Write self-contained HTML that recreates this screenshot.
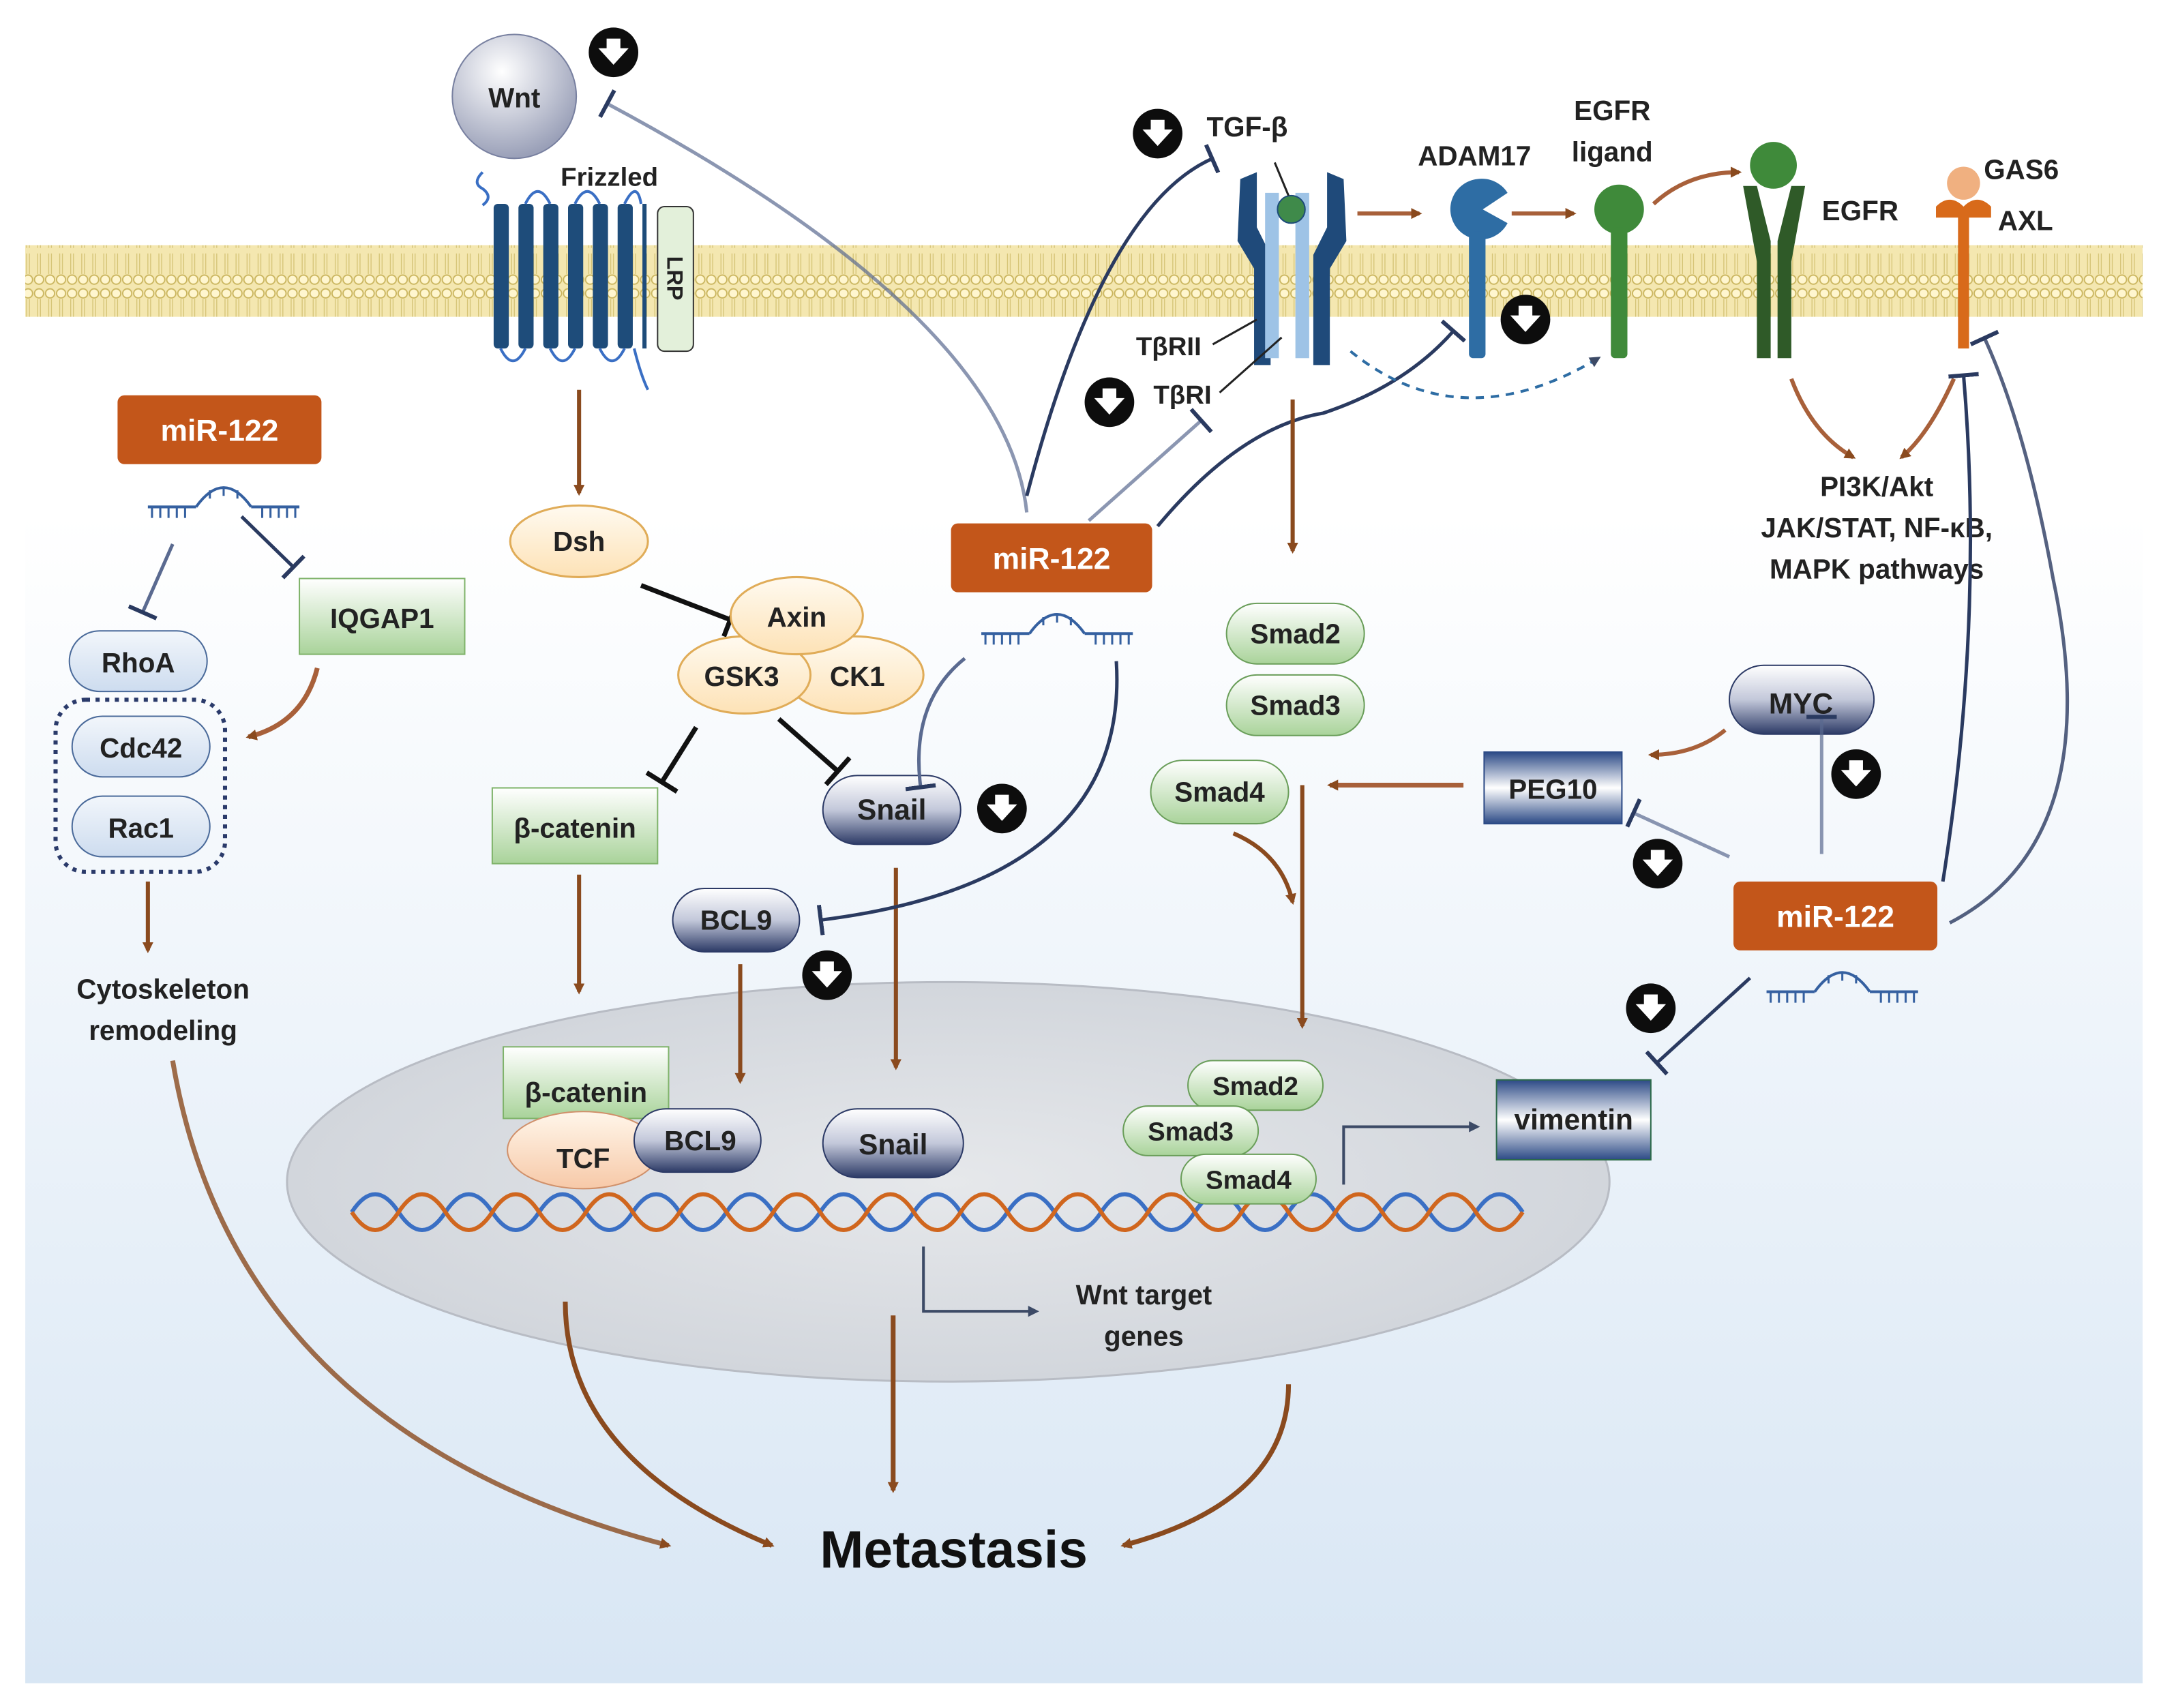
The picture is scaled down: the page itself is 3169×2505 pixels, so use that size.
<!DOCTYPE html>
<html><head><meta charset="utf-8"><style>
html,body{margin:0;padding:0;background:#fff}
svg{display:block}
text{font-family:"Liberation Sans",sans-serif;font-weight:bold}
</style></head><body>
<svg width="3169" height="2505" viewBox="0 0 1568 1240" xmlns="http://www.w3.org/2000/svg">
<defs>
<linearGradient id="bg" x1="0" y1="0" x2="0" y2="1"><stop offset="0" stop-color="#fff"/><stop offset="0.3" stop-color="#fff"/><stop offset="1" stop-color="#d8e6f4"/></linearGradient>
<radialGradient id="nuc" cx="0.5" cy="0.5" r="0.5"><stop offset="0" stop-color="#e6e8eb"/><stop offset="1" stop-color="#d2d6dc"/></radialGradient>
<radialGradient id="wnt" cx="0.4" cy="0.3" r="0.7"><stop offset="0" stop-color="#fff"/><stop offset="1" stop-color="#9aa0b8"/></radialGradient>
<linearGradient id="dk" x1="0" y1="0" x2="0" y2="1"><stop offset="0" stop-color="#fff"/><stop offset="0.5" stop-color="#c3c8da"/><stop offset="1" stop-color="#2c3a66"/></linearGradient>
<linearGradient id="gr" x1="0" y1="0" x2="0" y2="1"><stop offset="0" stop-color="#fff"/><stop offset="1" stop-color="#a9d39a"/></linearGradient>
<linearGradient id="pe" x1="0" y1="0" x2="0" y2="1"><stop offset="0" stop-color="#fff6ea"/><stop offset="1" stop-color="#f7c9a8"/></linearGradient>
<linearGradient id="yl" x1="0" y1="0" x2="0" y2="1"><stop offset="0" stop-color="#fffaf0"/><stop offset="1" stop-color="#fde2b6"/></linearGradient>
<linearGradient id="bx" x1="0" y1="0" x2="0" y2="1"><stop offset="0" stop-color="#2c4a86"/><stop offset="0.5" stop-color="#fff"/><stop offset="1" stop-color="#2c4a86"/></linearGradient>
<linearGradient id="lb" x1="0" y1="0" x2="0" y2="1"><stop offset="0" stop-color="#f2f6fb"/><stop offset="1" stop-color="#cddcef"/></linearGradient>
<pattern id="lip" width="8" height="52" patternUnits="userSpaceOnUse">
<rect width="8" height="52" fill="#f4e7b0"/>
<circle cx="4" cy="5" r="3.3" fill="#fff6cf" stroke="#c9b45c" stroke-width="0.9"/>
<circle cx="4" cy="47" r="3.3" fill="#fff6cf" stroke="#c9b45c" stroke-width="0.9"/>
<line x1="3" y1="9" x2="3" y2="24" stroke="#d2c070" stroke-width="0.6"/><line x1="5" y1="9" x2="5" y2="24" stroke="#d2c070" stroke-width="0.6"/>
<line x1="3" y1="28" x2="3" y2="43" stroke="#d2c070" stroke-width="0.6"/><line x1="5" y1="28" x2="5" y2="43" stroke="#d2c070" stroke-width="0.6"/>
</pattern>
<marker id="ab" markerWidth="8" markerHeight="8" refX="6" refY="4" orient="auto" markerUnits="userSpaceOnUse" viewBox="0 0 8 8"><path d="M0,0 L8,4 L0,8 z" fill="#8a4a1e"/></marker>
<marker id="ak" markerWidth="8" markerHeight="8" refX="6" refY="4" orient="auto" viewBox="0 0 8 8" markerUnits="userSpaceOnUse"><path d="M0,0 L8,4 L0,8 z" fill="#3c4a66"/></marker>
<marker id="tb" markerWidth="4" markerHeight="22" refX="2" refY="11" orient="auto" markerUnits="userSpaceOnUse" viewBox="0 0 4 22"><rect x="0" y="0" width="3" height="22" fill="#2a3a60"/></marker>
<marker id="tk" markerWidth="4" markerHeight="26" refX="2" refY="13" orient="auto" markerUnits="userSpaceOnUse" viewBox="0 0 4 26"><rect x="0" y="0" width="3.5" height="26" fill="#111"/></marker>
<g id="dn"><circle r="18" fill="#0d0d0d"/><path d="M-5,-10 h10 v7 h6 l-11,12 l-11,-12 h6z" fill="#fff"/></g>
<g id="mir"><path d="M-55,0 H-20 M20,0 H55" stroke="#3560a0" stroke-width="2" fill="none"/><path d="M-20,0 Q0,-28 20,0" stroke="#3560a0" stroke-width="2" fill="none"/>
<path d="M-52,0 v8 M-46,0 v8 M-40,0 v8 M-34,0 v8 M-28,0 v8 M28,0 v8 M34,0 v8 M40,0 v8 M46,0 v8 M52,0 v8 M-10,-12 v6 M0,-14 v6 M10,-12 v6" stroke="#3560a0" stroke-width="1.5"/></g>
</defs>
<rect width="1568" height="1240" fill="#fff"/>
<rect x="18" y="10" width="1537" height="1212" fill="url(#bg)"/>
<rect x="18" y="178" width="1537" height="52" fill="url(#lip)"/>
<ellipse cx="688" cy="858" rx="480" ry="145" fill="url(#nuc)" stroke="#b8bcc4" stroke-width="1.5"/>
<!-- DNA -->
<g fill="none" stroke-width="3">
<path id="h1" d="M255,880 q17,-26 34,0 t34,0 t34,0 t34,0 t34,0 t34,0 t34,0 t34,0 t34,0 t34,0 t34,0 t34,0 t34,0 t34,0 t34,0 t34,0 t34,0 t34,0 t34,0 t34,0 t34,0 t34,0 t34,0 t34,0 t34,0" stroke="#3a6fc4"/>
<path d="M255,880 q17,26 34,0 t34,0 t34,0 t34,0 t34,0 t34,0 t34,0 t34,0 t34,0 t34,0 t34,0 t34,0 t34,0 t34,0 t34,0 t34,0 t34,0 t34,0 t34,0 t34,0 t34,0 t34,0 t34,0 t34,0 t34,0" stroke="#d0661e"/>
</g>
<!-- metastasis curves -->
<g fill="none" stroke="#8a4a1e" stroke-width="3.5">
<path d="M125,770 Q170,1040 485,1122" marker-end="url(#ab)" stroke-opacity="0.8"/>
<path d="M410,945 Q410,1060 560,1122" marker-end="url(#ab)"/>
<path d="M648,955 V1082" marker-end="url(#ab)"/>
<path d="M935,1005 Q935,1090 815,1122" marker-end="url(#ab)"/>
</g>
<text x="692" y="1138" font-size="38" text-anchor="middle" fill="#111">Metastasis</text>
<!-- Wnt -->
<circle cx="373" cy="70" r="45" fill="url(#wnt)" stroke="#7880a0"/>
<text x="373" y="78" font-size="20" text-anchor="middle" fill="#222">Wnt</text>
<use href="#dn" x="445" y="38"/>
<text x="442" y="135" font-size="19" text-anchor="middle" fill="#222">Frizzled</text>
<path d="M350,125 q-8,8 0,12 q8,6 0,12" stroke="#3a6fc4" fill="none" stroke-width="2"/>
<g fill="#1e4c7a"><rect x="358" y="148" width="11" height="105" rx="3"/><rect x="376" y="148" width="11" height="105" rx="3"/><rect x="394" y="148" width="11" height="105" rx="3"/><rect x="412" y="148" width="11" height="105" rx="3"/><rect x="430" y="148" width="11" height="105" rx="3"/><rect x="448" y="148" width="11" height="105" rx="3"/><rect x="466" y="148" width="3" height="105"/></g>
<path d="M363,253 q9,18 18,0 M399,253 q9,18 18,0 M435,253 q9,18 18,0 M381,148 q9,-18 18,0 M417,148 q9,-18 18,0 M453,148 q9,-18 12,0 M460,253 q5,20 10,30" stroke="#3a6fc4" fill="none" stroke-width="2"/>
<rect x="477" y="150" width="26" height="105" rx="5" fill="#e3f0da" stroke="#333"/>
<text x="490" y="202" font-size="16" text-anchor="middle" fill="#222" transform="rotate(90 490 202)" dy="6">LRP</text>
<path d="M420,283 V358" stroke="#8a4a1e" stroke-width="3" marker-end="url(#ab)"/>
<ellipse cx="420" cy="393" rx="50" ry="26" fill="url(#yl)" stroke="#e0ac58" stroke-width="1.5"/>
<text x="420" y="400" font-size="20" text-anchor="middle" fill="#222">Dsh</text>
<path d="M465,425 L530,450" stroke="#111" stroke-width="3.5" marker-end="url(#tk)"/>
<ellipse cx="620" cy="490" rx="50" ry="28" fill="url(#yl)" stroke="#e0ac58" stroke-width="1.5"/>
<ellipse cx="540" cy="490" rx="48" ry="28" fill="url(#yl)" stroke="#e0ac58" stroke-width="1.5"/>
<ellipse cx="578" cy="447" rx="48" ry="28" fill="url(#yl)" stroke="#e0ac58" stroke-width="1.5"/>
<text x="578" y="455" font-size="20" text-anchor="middle" fill="#222">Axin</text>
<text x="538" y="498" font-size="20" text-anchor="middle" fill="#222">GSK3</text>
<text x="622" y="498" font-size="20" text-anchor="middle" fill="#222">CK1</text>
<path d="M505,528 L480,568" stroke="#111" stroke-width="3.5" marker-end="url(#tk)"/>
<path d="M565,522 L608,560" stroke="#111" stroke-width="3.5" marker-end="url(#tk)"/>
<rect x="357" y="572" width="120" height="55" fill="url(#gr)" stroke="#7fb36a"/>
<text x="417" y="608" font-size="20" text-anchor="middle" fill="#222">β-catenin</text>
<path d="M420,635 V720" stroke="#8a4a1e" stroke-width="3" marker-end="url(#ab)"/>
<rect x="597" y="563" width="100" height="50" rx="25" fill="url(#dk)" stroke="#2c3a66"/>
<text x="647" y="595" font-size="21" text-anchor="middle" fill="#222">Snail</text>
<use href="#dn" x="727" y="587"/>
<path d="M650,630 V775" stroke="#8a4a1e" stroke-width="3" marker-end="url(#ab)"/>
<rect x="488" y="645" width="92" height="46" rx="23" fill="url(#dk)" stroke="#2c3a66"/>
<text x="534" y="675" font-size="20" text-anchor="middle" fill="#222">BCL9</text>
<use href="#dn" x="600" y="708"/>
<path d="M537,700 V785" stroke="#8a4a1e" stroke-width="3" marker-end="url(#ab)"/>
<!-- miR-122 center -->
<rect x="690" y="380" width="146" height="50" rx="5" fill="#c3561a"/>
<text x="763" y="413" font-size="22" text-anchor="middle" fill="#fff">miR-122</text>
<use href="#mir" x="767" y="460"/>
<path d="M745,372 Q730,230 440,75" stroke="#5a6a90" stroke-width="2.5" fill="none" marker-end="url(#tb)" stroke-opacity="0.7"/>
<path d="M790,378 L872,305" stroke="#5a6a90" stroke-width="2.5" fill="none" marker-end="url(#tb)" stroke-opacity="0.7"/>
<path d="M840,382 Q900,310 960,300 Q1020,280 1055,240" stroke="#2a3a60" stroke-width="2.5" fill="none" marker-end="url(#tb)"/>
<path d="M700,478 Q660,510 668,572" stroke="#5a6a90" stroke-width="2.5" fill="none" marker-end="url(#tb)"/>
<path d="M810,480 Q820,640 595,668" stroke="#2a3a60" stroke-width="2.5" fill="none" marker-end="url(#tb)"/>
<!-- TGF -->
<use href="#dn" x="840" y="97"/>
<text x="905" y="99" font-size="20" text-anchor="middle" fill="#222">TGF-β</text>
<path d="M745,360 Q800,150 880,115" stroke="#2a3a60" stroke-width="2.5" fill="none" marker-end="url(#tb)"/>
<g>
<path d="M900,130 l12,-5 l0,40 l10,20 l0,80 l-12,0 l0,-70 l-12,-20z" fill="#1f4a7a"/>
<path d="M918,140 l10,0 l0,120 l-10,0z" fill="#9ec3e6"/>
<path d="M940,140 l10,0 l0,120 l-10,0z" fill="#9ec3e6"/>
<path d="M975,130 l-12,-5 l0,40 l-10,20 l0,80 l12,0 l0,-70 l12,-20z" fill="#1f4a7a"/>
<circle cx="937" cy="152" r="10" fill="#3f8a4a" stroke="#1e4c7a"/>
<line x1="925" y1="118" x2="935" y2="142" stroke="#222" stroke-width="1.5"/>
</g>
<text x="848" y="258" font-size="19" text-anchor="middle" fill="#222">TβRII</text>
<text x="858" y="293" font-size="19" text-anchor="middle" fill="#222">TβRI</text>
<line x1="880" y1="250" x2="912" y2="232" stroke="#222" stroke-width="1.5"/>
<line x1="885" y1="285" x2="930" y2="245" stroke="#222" stroke-width="1.5"/>
<use href="#dn" x="805" y="292"/>
<path d="M938,290 V400" stroke="#8a4a1e" stroke-width="3" marker-end="url(#ab)"/>
<path d="M985,155 H1030" stroke="#a8603a" stroke-width="3" marker-end="url(#ab)"/>
<text x="1070" y="120" font-size="20" text-anchor="middle" fill="#222">ADAM17</text>
<path d="M1072,130 a22,22 0 1 0 22,32 l-18,-10 l18,-12 a22,22 0 0 0 -22,-10z" fill="#2e6da4"/>
<rect x="1066" y="168" width="12" height="92" rx="3" fill="#2e6da4"/>
<use href="#dn" x="1107" y="232"/>
<path d="M980,255 Q1060,320 1160,260" stroke="#2e6da4" stroke-width="2" stroke-dasharray="6,5" fill="none" marker-end="url(#ak)"/>
<path d="M1097,155 H1142" stroke="#a8603a" stroke-width="3" marker-end="url(#ab)"/>
<text x="1170" y="87" font-size="20" text-anchor="middle" fill="#222">EGFR</text>
<text x="1170" y="117" font-size="20" text-anchor="middle" fill="#222">ligand</text>
<circle cx="1175" cy="152" r="18" fill="#3f8a3a"/>
<rect x="1169" y="165" width="12" height="95" rx="3" fill="#3f8a3a"/>
<path d="M1200,148 Q1225,125 1262,125" stroke="#a8603a" stroke-width="3" fill="none" marker-end="url(#ab)"/>
<circle cx="1287" cy="120" r="17" fill="#3f8a3a"/>
<path d="M1265,135 l10,0 l10,40 l0,85 l-10,0 l0,-70z M1310,135 l-10,0 l-10,40 l0,85 l10,0 l0,-70z" fill="#2f5a28"/>
<text x="1350" y="160" font-size="20" text-anchor="middle" fill="#222">EGFR</text>
<circle cx="1425" cy="133" r="12" fill="#f0b080"/>
<path d="M1405,150 q10,-10 20,0 q10,-10 20,0 l0,8 l-16,0 l0,95 l-8,0 l0,-95 l-16,0z" fill="#d86a1a"/>
<text x="1467" y="130" font-size="20" text-anchor="middle" fill="#222">GAS6</text>
<text x="1470" y="167" font-size="20" text-anchor="middle" fill="#222">AXL</text>
<path d="M1300,275 Q1315,315 1345,332" stroke="#a8603a" stroke-width="3" fill="none" marker-end="url(#ab)"/>
<path d="M1418,275 Q1400,315 1380,332" stroke="#a8603a" stroke-width="3" fill="none" marker-end="url(#ab)"/>
<text x="1362" y="360" font-size="20" text-anchor="middle" fill="#222">PI3K/Akt</text>
<text x="1362" y="390" font-size="20" text-anchor="middle" fill="#222">JAK/STAT, NF-κB,</text>
<text x="1362" y="420" font-size="20" text-anchor="middle" fill="#222">MAPK pathways</text>
<!-- Smads -->
<rect x="890" y="438" width="100" height="44" rx="22" fill="url(#gr)" stroke="#6a9e5a"/>
<text x="940" y="467" font-size="20" text-anchor="middle" fill="#222">Smad2</text>
<rect x="890" y="490" width="100" height="44" rx="22" fill="url(#gr)" stroke="#6a9e5a"/>
<text x="940" y="519" font-size="20" text-anchor="middle" fill="#222">Smad3</text>
<rect x="835" y="552" width="100" height="46" rx="23" fill="url(#gr)" stroke="#6a9e5a"/>
<text x="885" y="582" font-size="20" text-anchor="middle" fill="#222">Smad4</text>
<path d="M895,605 Q930,620 938,655" stroke="#8a4a1e" stroke-width="3" fill="none" marker-end="url(#ab)"/>
<path d="M945,570 V745" stroke="#8a4a1e" stroke-width="3" marker-end="url(#ab)"/>
<path d="M1062,570 H965" stroke="#a8603a" stroke-width="3.5" marker-end="url(#ab)"/>
<rect x="1077" y="546" width="100" height="52" fill="url(#bx)" stroke="#2c4a86"/>
<text x="1127" y="580" font-size="20" text-anchor="middle" fill="#222">PEG10</text>
<rect x="1255" y="483" width="105" height="50" rx="25" fill="url(#dk)" stroke="#2c3a66"/>
<text x="1307" y="518" font-size="21" text-anchor="middle" fill="#222">MYC</text>
<path d="M1252,530 Q1230,548 1198,548" stroke="#a8603a" stroke-width="3" fill="none" marker-end="url(#ab)"/>
<use href="#dn" x="1347" y="562"/>
<use href="#dn" x="1203" y="627"/>
<rect x="1258" y="640" width="148" height="50" rx="5" fill="#c3561a"/>
<text x="1332" y="673" font-size="22" text-anchor="middle" fill="#fff">miR-122</text>
<use href="#mir" x="1337" y="720"/>
<path d="M1322,620 V520" stroke="#5a6a90" stroke-width="2.5" marker-end="url(#tb)" stroke-opacity="0.7"/>
<path d="M1255,622 L1185,590" stroke="#5a6a90" stroke-width="2.5" marker-end="url(#tb)" stroke-opacity="0.7"/>
<path d="M1410,640 Q1440,450 1425,272" stroke="#2a3a60" stroke-width="2.5" fill="none" marker-end="url(#tb)"/>
<path d="M1415,670 Q1530,610 1490,420 Q1470,310 1440,245" stroke="#2a3a60" stroke-width="2.5" fill="none" marker-end="url(#tb)" stroke-opacity="0.8"/>
<use href="#dn" x="1198" y="732"/>
<path d="M1270,710 L1202,772" stroke="#2a3a60" stroke-width="2.5" marker-end="url(#tb)"/>
<!-- left miR -->
<rect x="85" y="287" width="148" height="50" rx="5" fill="#c3561a"/>
<text x="159" y="320" font-size="22" text-anchor="middle" fill="#fff">miR-122</text>
<use href="#mir" x="162" y="368"/>
<path d="M125,395 L103,445" stroke="#5a6a90" stroke-width="2.5" marker-end="url(#tb)"/>
<path d="M175,375 L213,412" stroke="#2a3a60" stroke-width="2.5" marker-end="url(#tb)"/>
<rect x="217" y="420" width="120" height="55" fill="url(#gr)" stroke="#7fb36a"/>
<text x="277" y="456" font-size="20" text-anchor="middle" fill="#222">IQGAP1</text>
<path d="M230,485 Q220,525 180,535" stroke="#a8603a" stroke-width="3.5" fill="none" marker-end="url(#ab)"/>
<rect x="50" y="458" width="100" height="44" rx="22" fill="url(#lb)" stroke="#4a6a9a"/>
<text x="100" y="488" font-size="20" text-anchor="middle" fill="#222">RhoA</text>
<rect x="40" y="508" width="123" height="125" rx="22" fill="none" stroke="#2a3a6a" stroke-width="3" stroke-dasharray="3,4"/>
<rect x="52" y="520" width="100" height="44" rx="22" fill="url(#lb)" stroke="#4a6a9a"/>
<text x="102" y="550" font-size="20" text-anchor="middle" fill="#222">Cdc42</text>
<rect x="52" y="578" width="100" height="44" rx="22" fill="url(#lb)" stroke="#4a6a9a"/>
<text x="102" y="608" font-size="20" text-anchor="middle" fill="#222">Rac1</text>
<path d="M107,640 V690" stroke="#8a4a1e" stroke-width="3" marker-end="url(#ab)"/>
<text x="118" y="725" font-size="20" text-anchor="middle" fill="#222">Cytoskeleton</text>
<text x="118" y="755" font-size="20" text-anchor="middle" fill="#222">remodeling</text>
<!-- nucleus content -->
<rect x="365" y="760" width="120" height="52" fill="url(#gr)" stroke="#7fb36a"/>
<text x="425" y="800" font-size="20" text-anchor="middle" fill="#222">β-catenin</text>
<ellipse cx="423" cy="835" rx="55" ry="28" fill="url(#pe)" stroke="#d0906a"/>
<text x="423" y="848" font-size="20" text-anchor="middle" fill="#222">TCF</text>
<rect x="460" y="805" width="92" height="46" rx="23" fill="url(#dk)" stroke="#2c3a66"/>
<text x="508" y="835" font-size="20" text-anchor="middle" fill="#222">BCL9</text>
<rect x="597" y="805" width="102" height="50" rx="25" fill="url(#dk)" stroke="#2c3a66"/>
<text x="648" y="838" font-size="21" text-anchor="middle" fill="#222">Snail</text>
<rect x="862" y="770" width="98" height="36" rx="18" fill="url(#gr)" stroke="#6a9e5a"/>
<text x="911" y="795" font-size="19" text-anchor="middle" fill="#222">Smad2</text>
<rect x="815" y="803" width="98" height="36" rx="18" fill="url(#gr)" stroke="#6a9e5a"/>
<text x="864" y="828" font-size="19" text-anchor="middle" fill="#222">Smad3</text>
<rect x="857" y="838" width="98" height="36" rx="18" fill="url(#gr)" stroke="#6a9e5a"/>
<text x="906" y="863" font-size="19" text-anchor="middle" fill="#222">Smad4</text>
<path d="M975,860 V818 H1072" stroke="#3c4a66" stroke-width="2" fill="none" marker-end="url(#ak)"/>
<rect x="1086" y="784" width="112" height="58" fill="url(#bx)" stroke="#2c6a4a"/>
<text x="1142" y="820" font-size="21" text-anchor="middle" fill="#222">vimentin</text>
<path d="M670,905 V952 H752" stroke="#3c4a66" stroke-width="2" fill="none" marker-end="url(#ak)"/>
<text x="830" y="947" font-size="20" text-anchor="middle" fill="#222">Wnt target</text>
<text x="830" y="977" font-size="20" text-anchor="middle" fill="#222">genes</text>
</svg>
</body></html>
